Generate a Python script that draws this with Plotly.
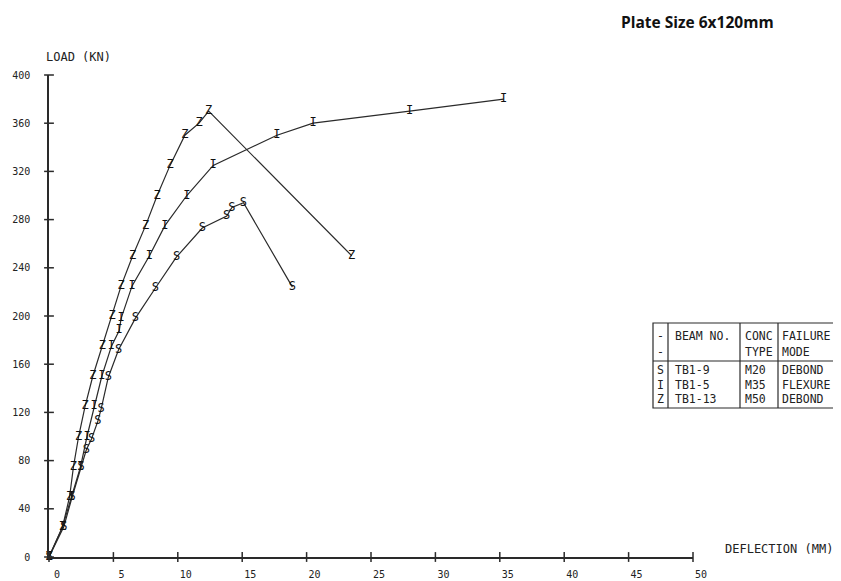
import plotly.graph_objects as go

# ---- data (deflection in mm, load in kN) ----
s_defl = [0, 1.15, 1.8, 2.5, 2.9, 3.3, 3.8, 4.05, 4.6, 5.4, 6.7, 8.25, 9.9, 11.9, 13.8, 14.2, 15.1, 18.9]
s_load = [0, 25, 50, 75, 89, 98, 113, 123, 149, 172, 198, 223, 249, 273, 283, 290, 294, 224]

i_defl = [0, 1.05, 1.75, 2.45, 2.95, 3.5, 4.1, 4.85, 5.45, 5.6, 6.45, 7.8, 9.0, 10.7, 12.75, 17.7, 20.5, 28.0, 35.3]
i_load = [0, 25, 50, 75, 100, 125, 150, 175, 188, 198, 225, 250, 275, 300, 325, 350, 360, 370, 380]

z_defl = [0, 1.05, 1.6, 1.9, 2.3, 2.8, 3.4, 4.15, 4.9, 5.6, 6.5, 7.5, 8.4, 9.4, 10.55, 11.65, 12.4, 23.5]
z_load = [0, 25, 50, 75, 100, 125, 150, 175, 200, 225, 250, 275, 300, 325, 350, 360, 370, 250]

x_ticks = [0, 5, 10, 15, 20, 25, 30, 35, 40, 45, 50]
y_ticks = [0, 40, 80, 120, 160, 200, 240, 280, 320, 360, 400]

table_header1 = ["-", "BEAM NO.", "CONC", "FAILURE"]
table_header2 = ["-", "", "TYPE", "MODE"]
table_rows = [
    ["S", "TB1-9", "M20", "DEBOND"],
    ["I", "TB1-5", "M35", "FLEXURE"],
    ["Z", "TB1-13", "M50", "DEBOND"],
]

title_text = "Plate Size 6x120mm"
y_title = "LOAD (KN)"
x_title = "DEFLECTION (MM)"

# ---- layout geometry (page pixels; the page body adds an 8px offset) ----
OFF = 8
W, H = 841 - OFF, 581 - OFF
AX_L, AX_R, AX_T, AX_B = 49, 693, 75, 557   # page coords of plot area
L, R, T, B = AX_L - OFF, W - (AX_R - OFF), AX_T - OFF, H - (AX_B - OFF)
PW, PH = W - L - R, H - T - B
INK = "#2a2a2a"
MONO = "DejaVu Sans Mono"


def px(x):
    return (x - OFF - L) / PW


def py(y):
    return (H - B - (y - OFF)) / PH


fig = go.Figure()

for xs, ys, letter in [(s_defl, s_load, "S"), (i_defl, i_load, "I"), (z_defl, z_load, "Z")]:
    fig.add_trace(go.Scatter(
        x=xs, y=ys, mode="lines+text", text=[letter] * len(xs),
        textposition="middle center",
        textfont=dict(family=MONO, size=12, color="#111"),
        line=dict(color=INK, width=1.2),
        cliponaxis=False, showlegend=False, hoverinfo="x+y",
    ))

# tick crosses on axes
fig.add_trace(go.Scatter(
    x=x_ticks, y=[0] * len(x_ticks), mode="markers",
    marker=dict(symbol="line-ns", size=7, line=dict(color=INK, width=1.5)),
    cliponaxis=False, showlegend=False, hoverinfo="skip"))
fig.add_trace(go.Scatter(
    x=[0] * len(y_ticks), y=y_ticks, mode="markers",
    marker=dict(symbol="line-ew", size=7, line=dict(color=INK, width=1.5)),
    cliponaxis=False, showlegend=False, hoverinfo="skip"))

fig.update_xaxes(
    range=[0, 50], tickvals=x_ticks, ticktext=[str(v) for v in x_ticks],
    showgrid=False, zeroline=False, showline=True, linecolor=INK, linewidth=1.5,
    ticks="", ticklabelstandoff=7, ticklabelshift=8, automargin=False,
    tickfont=dict(family=MONO, size=10, color="#222"),
)
fig.update_yaxes(
    range=[0, 400], tickvals=y_ticks, ticktext=[str(v) for v in y_ticks],
    showgrid=False, zeroline=False, showline=True, linecolor=INK, linewidth=1.5,
    ticks="", ticklabelstandoff=15, automargin=False,
    tickfont=dict(family=MONO, size=10, color="#222"),
)

annotations = [
    dict(text=f"<b>{title_text}</b>", x=px(619), y=py(8.5), xref="paper", yref="paper",
         xanchor="left", yanchor="top", showarrow=False,
         font=dict(family="Open Sans", size=15.5, color="#111")),
    dict(text=y_title, x=px(44), y=py(57), xref="paper", yref="paper",
         xanchor="left", yanchor="middle", showarrow=False,
         font=dict(family=MONO, size=12, color="#222")),
    dict(text=x_title, x=px(723), y=py(549), xref="paper", yref="paper",
         xanchor="left", yanchor="middle", showarrow=False,
         font=dict(family=MONO, size=12, color="#222")),
]

# table
tx0, tx1, ty0, ty1 = 653, 839, 323, 408
col_lines = [668, 740, 778]
hdr_line = 361
shapes = [
    dict(type="rect", xref="paper", yref="paper", x0=px(tx0), x1=px(tx1),
         y0=py(ty1), y1=py(ty0), line=dict(color=INK, width=1.2)),
    dict(type="line", xref="paper", yref="paper", x0=px(tx0), x1=px(tx1),
         y0=py(hdr_line), y1=py(hdr_line), line=dict(color=INK, width=1.2)),
]
for cx in col_lines:
    shapes.append(dict(type="line", xref="paper", yref="paper", x0=px(cx), x1=px(cx),
                       y0=py(ty1), y1=py(ty0), line=dict(color=INK, width=1.2)))

col_text_x = [660.5, 673, 743, 780]
row_y = [336, 352, 370, 385, 399]
all_rows = [table_header1, table_header2] + table_rows
for r, row in enumerate(all_rows):
    for c, cell in enumerate(row):
        if not cell:
            continue
        annotations.append(dict(
            text=cell, x=px(col_text_x[c]), y=py(row_y[r]), xref="paper", yref="paper",
            xanchor="center" if c == 0 else "left", yanchor="middle", showarrow=False,
            font=dict(family=MONO, size=11.5, color="#222")))

fig.update_layout(
    width=W, height=H, margin=dict(l=L, r=R, t=T, b=B, autoexpand=False),
    paper_bgcolor="white", plot_bgcolor="white",
    annotations=annotations, shapes=shapes,
)

fig.write_html("out.html")
